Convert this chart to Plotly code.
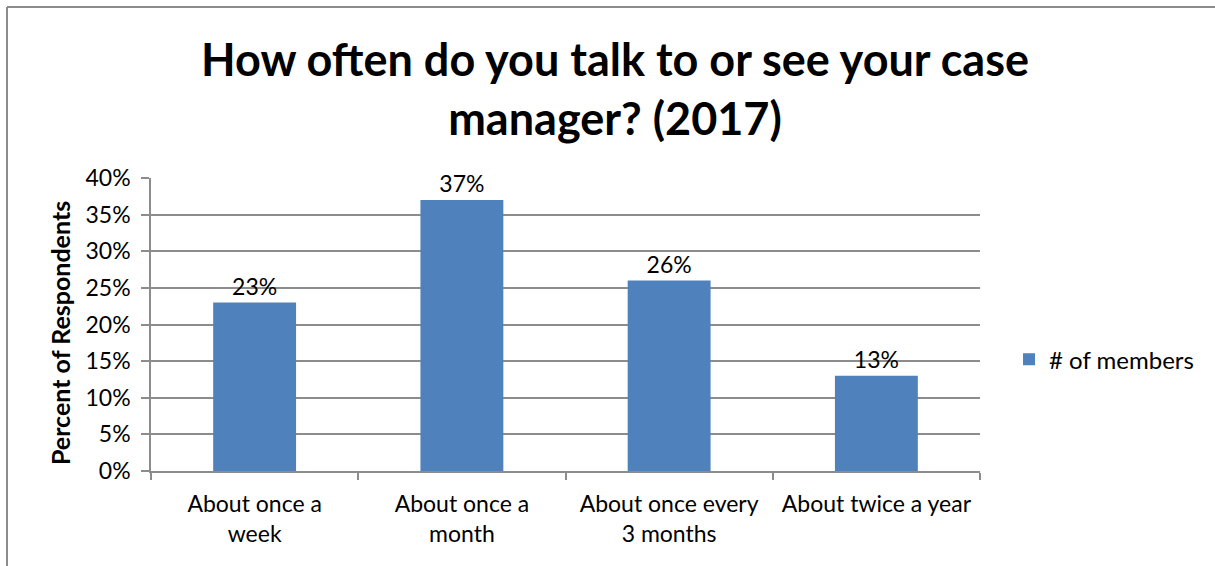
import plotly.graph_objects as go

categories = ["About once a<br>week", "About once a<br>month", "About once every<br>3 months", "About twice a year"]
shares = [0.23, 0.37, 0.26, 0.13]
series_name = "# of members"
y_ticks = [0, 0.05, 0.10, 0.15, 0.20, 0.25, 0.30, 0.35, 0.40]

FONT = "Lato"
BAR = "#4F81BD"
GRID = "#8C8C8C"
SZ = 23

fig = go.Figure()
fig.add_trace(go.Bar(
    x=categories,
    y=shares,
    name=series_name,
    marker=dict(color=BAR, line=dict(width=0)),
    text=shares,
    texttemplate="%{y:.0%}",
    textposition="outside",
    textfont=dict(family=FONT, size=SZ, color="black"),
    cliponaxis=False,
    width=0.4,
    showlegend=True,
))

fig.update_layout(
    width=1215,
    height=566,
    paper_bgcolor="white",
    plot_bgcolor="white",
    margin=dict(l=151, r=235, t=178, b=95),
    font=dict(family=FONT, size=SZ, color="black"),
    legend=dict(
        x=1.035, xanchor="left",
        y=0.38, yanchor="middle",
        font=dict(family=FONT, size=24),
        bgcolor="rgba(0,0,0,0)",
        itemwidth=30,
    ),
    bargap=0.6,
)

# chart title
fig.add_annotation(
    text="<b>How often do you talk to or see your case<br>manager? (2017)</b>",
    xref="paper", yref="paper", x=0.56, y=1.304,
    xanchor="center", yanchor="middle", showarrow=False,
    font=dict(family=FONT, size=45, color="black"),
)
# y-axis title
fig.add_annotation(
    text="<b>Percent of Respondents</b>",
    xref="paper", yref="paper", x=-0.110, y=0.47,
    xanchor="center", yanchor="middle", showarrow=False, textangle=-90,
    font=dict(family=FONT, size=25, color="black"),
)

fig.update_yaxes(
    range=[0, 0.4],
    tickvals=y_ticks,
    tickformat=".0%",
    showgrid=True, gridcolor=GRID, gridwidth=1.5,
    showline=True, linecolor=GRID, linewidth=1.5,
    ticks="outside", ticklen=8, tickcolor=GRID, tickwidth=1.5,
    tickfont=dict(family=FONT, size=SZ),
    ticklabelstandoff=6,
    zeroline=False,
)
fig.update_xaxes(
    showline=True, linecolor=GRID, linewidth=1.5,
    ticks="outside", ticklen=7, tickcolor=GRID, tickwidth=1.5,
    tickson="boundaries",
    tickfont=dict(family=FONT, size=SZ),
    ticklabelstandoff=12,
    tickangle=0,
)

# outer chart frame: top and left edges, running to the page edges
frame = dict(color="#8C8C8C", width=2)
fig.add_shape(type="line", xref="paper", yref="paper",
              x0=-0.1737, x1=1.2835, y0=1.584, y1=1.584, line=frame, layer="below")
fig.add_shape(type="line", xref="paper", yref="paper",
              x0=-0.1737, x1=-0.1737, y0=1.584, y1=-0.325, line=frame, layer="below")

fig.write_html("out.html")
